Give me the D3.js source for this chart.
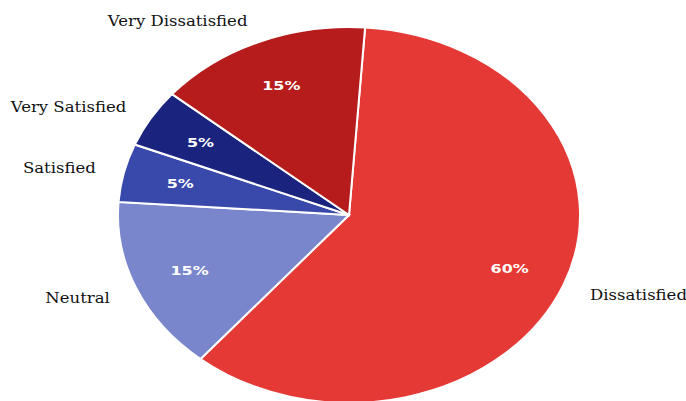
<!DOCTYPE html>
<html>
<head>
<meta charset="utf-8">
<script src="https://cdn.jsdelivr.net/npm/d3@7.9.0/dist/d3.min.js"></script>
<style>
  body { margin: 0; background: #fff; }
  svg { display: block; }
</style>
</head>
<body>
<div id="chart"></div>
<script>
const categories = ['Dissatisfied', 'Neutral', 'Satisfied', 'Very Satisfied', 'Very Dissatisfied'];
const shares = [60, 15, 5, 5, 15];
const colors = ['#e53935', '#7986cb', '#3949ab', '#1a237e', '#b71c1c'];

const width = 686;
const height = 401;
const radius = 188;
const stretchX = 231 / 188; // the picture is wider than tall
const cx = 349, cy = 215;

const svg = d3.select('#chart')
  .append('svg')
  .attr('width', width)
  .attr('height', height);

const g = svg.append('g')
  .attr('transform', `translate(${cx}, ${cy}) scale(${stretchX}, 1)`);

const data = categories.map((c, i) => ({ name: c, value: shares[i], color: colors[i] }));

const pie = d3.pie()
  .sort(null)
  .value(d => d.value)
  .startAngle(4 * Math.PI / 180)
  .endAngle(4 * Math.PI / 180 + 2 * Math.PI);

const arcs = pie(data);
const arc = d3.arc().innerRadius(0).outerRadius(radius);

g.selectAll('path')
  .data(arcs)
  .join('path')
  .attr('d', arc)
  .attr('fill', d => d.data.color)
  .attr('stroke', '#fff')
  .attr('stroke-width', 2)
  .attr('vector-effect', 'non-scaling-stroke');

// percentage labels
const pctArc = d3.arc().innerRadius(radius * 0.75).outerRadius(radius * 0.75);
g.selectAll('text.pct')
  .data(arcs)
  .join('text')
  .attr('class', 'pct')
  .attr('transform', d => `translate(${pctArc.centroid(d)})`)
  .attr('text-anchor', 'middle')
  .attr('dominant-baseline', 'central')
  .attr('fill', '#fff')
  .attr('font-family', 'DejaVu Sans')
  .attr('font-weight', 'bold')
  .attr('font-size', 13)
  .text(d => d.data.value + '%');

// category labels
const labelR = radius * 1.125;
const mid = d => (d.startAngle + d.endAngle) / 2;
g.selectAll('text.lbl')
  .data(arcs)
  .join('text')
  .attr('class', 'lbl')
  .attr('transform', d => `translate(${Math.sin(mid(d)) * labelR}, ${-Math.cos(mid(d)) * labelR + 1}) scale(0.96, 1)`)
  .attr('text-anchor', d => Math.sin(mid(d)) > 0 ? 'start' : 'end')
  .attr('dominant-baseline', 'central')
  .attr('fill', '#111')
  .attr('font-family', 'DejaVu Serif')
  .attr('font-size', 14)
  .text(d => d.data.name);
</script>
</body>
</html>
